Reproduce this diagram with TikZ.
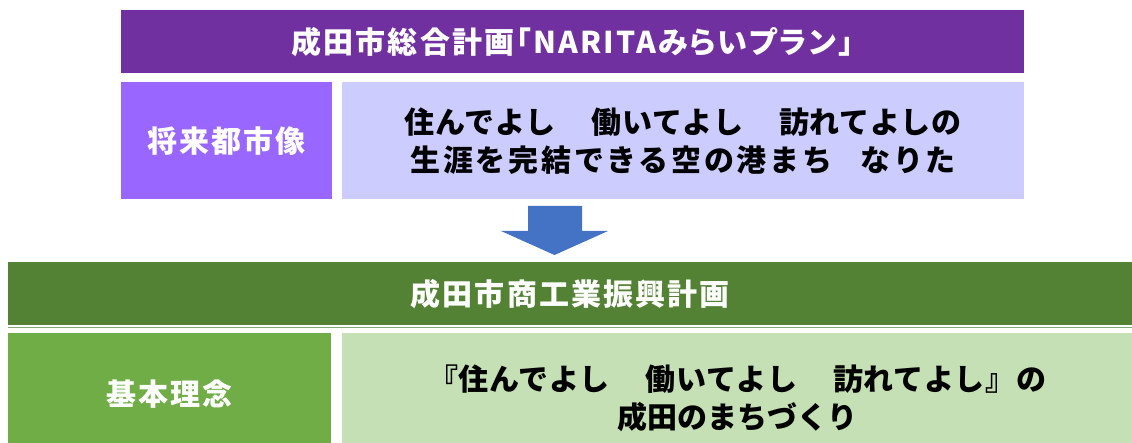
\documentclass[tikz,border=0pt]{standalone}
\usepackage{fontspec}
\setmainfont{Noto Sans CJK JP}
\definecolor{planpurple}{HTML}{7030A0}
\definecolor{visionpurple}{HTML}{9966FF}
\definecolor{visionlav}{HTML}{CCCCFF}
\definecolor{arrowblue}{HTML}{4472C4}
\definecolor{plangreen}{HTML}{548235}
\definecolor{ideagreen}{HTML}{70AD47}
\definecolor{idealight}{HTML}{C5E0B4}
\newcommand{\whitefont}{\fontsize{30}{34}\selectfont\bfseries\addfontfeatures{LetterSpace=7,RawFeature=+palt}}
\newcommand{\blackfont}{\fontsize{30}{38}\selectfont\bfseries}
\newcommand{\gap}[1]{\hspace{#1pt}}
\newcommand{\spread}[2]{{\addfontfeatures{LetterSpace=#1}#2}}

\begin{document}
\begin{tikzpicture}[x=1pt,y=-1pt,every node/.style={rectangle,anchor=north west,inner sep=0pt,align=center},
  head/.style={text=white,font=\whitefont,minimum height=63pt},
  label/.style={text=white,font=\whitefont},
  cell/.style={text=black,font=\blackfont}]
\clip (0,0) rectangle (1132,443);
\node[head,fill=planpurple,minimum width=903pt] at(121,10)(plan){成田市総合計画「NARITAみらいプラン」};
\node[label,fill=visionpurple,minimum width=211pt,minimum height=117pt] at(121,82)(vision){将来都市像};
\node[cell,fill=visionlav,minimum width=682pt,minimum height=117pt] at(342,82)(visiontext){\spread{2}{住んでよし\gap{36}働いてよし\gap{36}訪れてよしの}\\\spread{9}{生涯を完結できる空の港まち\gap{28}なりた}};
\fill[arrowblue] (528,206) -- (582,206) -- (582,231) -- (608,231) -- (554.5,255) -- (501,231) -- (528,231) -- cycle;
\node[head,fill=plangreen,minimum width=1124pt] at(8,262)(shoko){成田市商工業振興計画};
\draw[plangreen!70,line width=0.8pt] ([yshift=-2pt]shoko.south west) -- ([yshift=-2pt]shoko.south east);
\node[label,fill=ideagreen,minimum width=323pt,minimum height=122pt] at(8,333)(idea){基本理念};
\node[cell,fill=idealight,minimum width=790pt,minimum height=131pt] at(342,333)(ideatext){\spread{2}{『住んでよし\gap{36}働いてよし\gap{36}訪れてよし』の}\\成田のまちづくり};
\end{tikzpicture}
\end{document}
